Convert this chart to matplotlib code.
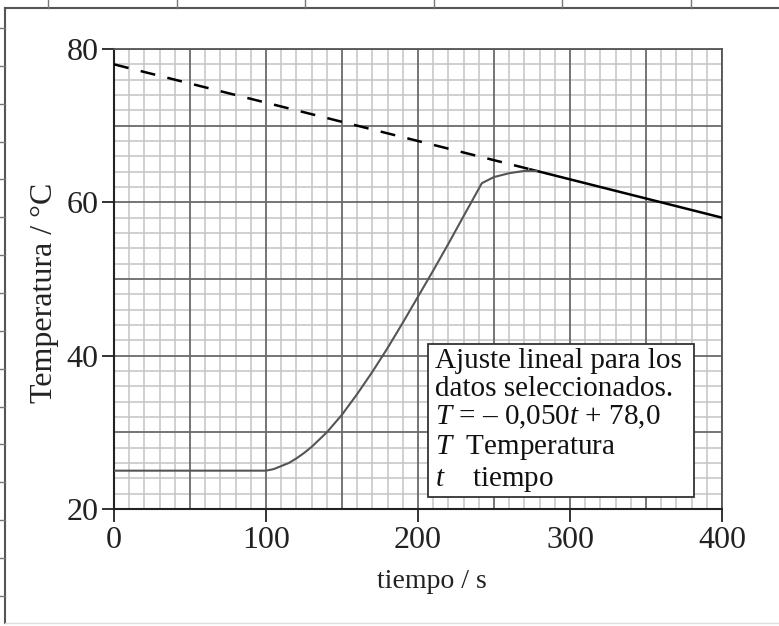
import matplotlib
matplotlib.use('Agg')
from matplotlib import pyplot as plt
from matplotlib.lines import Line2D
from matplotlib.patches import Rectangle

# ajuste lineal T = -0,050 t + 78,0
fitSlope = -0.050
fitIntercept = 78.0
dashedRange = [0, 274]
solidRange = [274, 400]

# datos medidos (curva gris)
tData = [0, 100, 105, 110, 115, 120, 125, 130, 140, 150, 160, 170, 180, 190,
         200, 210, 220, 230, 242, 250, 260, 270, 278]
TData = [25.0, 25.0, 25.2, 25.6, 26.0, 26.6, 27.3, 28.1, 30.0, 32.3, 35.0,
         37.9, 41.0, 44.3, 47.7, 51.1, 54.6, 58.2, 62.5, 63.3, 63.8, 64.1, 64.1]

xTicks = [0, 100, 200, 300, 400]
yTicks = [20, 40, 60, 80]
boxText = ('Ajuste lineal para los\n'
           'datos seleccionados.\n'
           '$T$ = – 0,050$t$ + 78,0\n'
           '$T$  Temperatura\n'
           '$t$    tiempo')

plt.rcParams['font.family'] = ['Liberation Serif', 'DejaVu Serif']
plt.rcParams['mathtext.fontset'] = 'custom'
plt.rcParams['mathtext.rm'] = 'Liberation Serif'
plt.rcParams['mathtext.it'] = 'Liberation Serif:italic'

W, H = 779, 626
fig = plt.figure(figsize=(W / 100, H / 100), dpi=100)
ax = fig.add_axes([114 / W, 1 - 509 / H, 608 / W, 460 / H])

# frame of the page / table
frameColor = '#555555'
fig.add_artist(Line2D([5 / W, 1], [1 - 8 / H] * 2, color=frameColor, lw=1.5))
fig.add_artist(Line2D([5 / W] * 2, [1 - 8 / H, 1 - 623 / H], color=frameColor, lw=1.5))
fig.add_artist(Line2D([5 / W, 1], [1 - 623 / H] * 2, color='#dddddd', lw=1.0))
for k in range(6):
    x = 48 + 128.6 * k
    fig.add_artist(Line2D([x / W] * 2, [1, 1 - 8 / H], color='#777777', lw=1.0))
for k in range(16):
    y = 28 + 37.86 * k
    fig.add_artist(Line2D([0, 5 / W], [1 - y / H] * 2, color='#777777', lw=1.0))

# graph paper grid
for t in range(0, 401, 10):
    major = t % 50 == 0
    ax.axvline(t, color='#6a6a6a' if major else '#c4c4c4',
               lw=1.3 if major else 1.1, zorder=1 if major else 0)
for T in range(20, 81, 2):
    major = T % 10 == 0
    ax.axhline(T, color='#6a6a6a' if major else '#c4c4c4',
               lw=1.3 if major else 1.1, zorder=1 if major else 0)

ax.plot(dashedRange, [fitSlope * t + fitIntercept for t in dashedRange],
        color='black', lw=1.8, dashes=(6, 5), zorder=3)
ax.plot(solidRange, [fitSlope * t + fitIntercept for t in solidRange],
        color='black', lw=1.8, zorder=3)
ax.plot(tData, TData, color='#555555', lw=1.5, zorder=3)

ax.add_patch(Rectangle((206.5, 21.6), 175, 19.9, facecolor='white',
                       edgecolor='#333333', lw=1.3, zorder=4))
ax.text(211, 41.0, boxText, fontsize=21, va='top', ha='left',
        linespacing=1.1, color='#111111', zorder=5)

ax.set_xlim(0, 400)
ax.set_ylim(20, 80)
ax.set_xticks(xTicks)
ax.set_yticks(yTicks)
ax.tick_params(direction='out', length=9, width=1.3, labelsize=23, pad=3,
               colors='#222222')
ax.tick_params(axis='y', pad=2)
for s in ['left', 'bottom']:
    ax.spines[s].set_color('#222222')
    ax.spines[s].set_linewidth(1.5)
for s in ['top', 'right']:
    ax.spines[s].set_color('#555555')
    ax.spines[s].set_linewidth(1.3)

ax.set_xlabel('tiempo / s', fontsize=20, color='#222222')
ax.xaxis.set_label_coords(0.523, -0.13)
ax.set_ylabel('Temperatura / °C', fontsize=23, color='#222222')
ax.yaxis.set_label_coords(-0.09, 0.47)

fig.savefig('out.png', dpi=100)
